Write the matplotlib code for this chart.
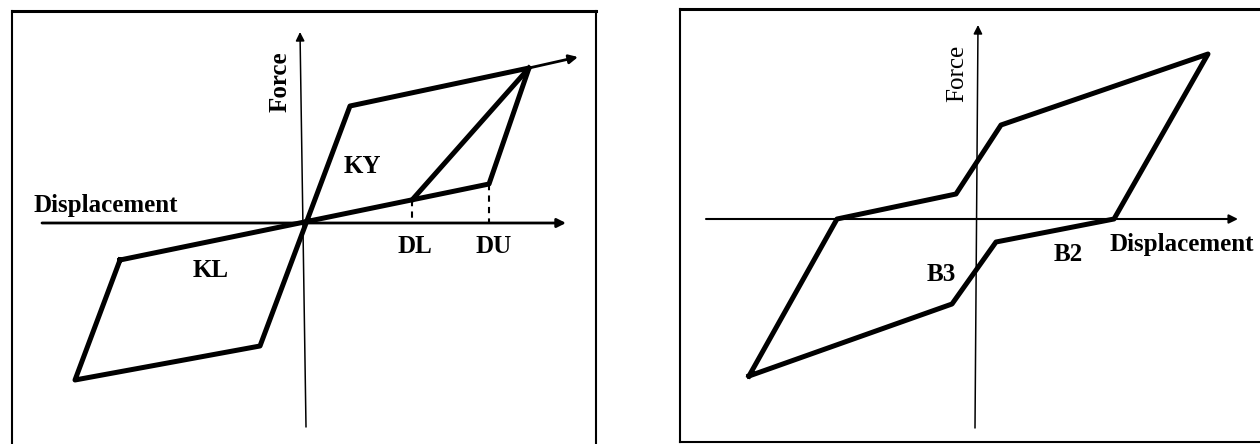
import matplotlib.pyplot as plt

plt.rcParams['font.family'] = ['Liberation Serif', 'DejaVu Serif']

# Left panel: bilinear hysteresis with unloading point DU and reloading from DL
left_loop_x = [-18.5, -23.0, -4.5, 4.5, 22.4, 18.4, -18.5]
left_loop_y = [-3.7, -15.7, -12.3, 11.7, 15.5, 3.9, -3.7]
reload_x = [10.7, 22.4]
reload_y = [2.3, 15.5]
dl_x, dl_y = 10.7, 2.3
du_x, du_y = 18.4, 3.9

# Right panel: flag-shaped loop with B2 / B3 branches
right_loop_x = [-22.8, -14.0, -2.1, 2.4, 23.1, 13.7, 1.9, -2.5, -22.8]
right_loop_y = [-15.7, 0.0, 2.5, 9.4, 16.5, 0.0, -2.3, -8.5, -15.7]

fig = plt.figure(figsize=(12.6, 4.44), dpi=100)
W, H = 1260, 444

ax1 = fig.add_axes([12 / W, 0, 584 / W, 433 / H])
ax1.set_xlim(-29.3, 29.1)
ax1.set_ylim(-22.1, 21.2)

ax2 = fig.add_axes([680 / W, 2 / H, 580 / W, 433 / H])
ax2.set_xlim(-29.7, 28.3)
ax2.set_ylim(-22.3, 21.0)

for ax in (ax1, ax2):
    ax.set_xticks([])
    ax.set_yticks([])
    for s in ax.spines.values():
        s.set_linewidth(1.5)
    ax.spines['top'].set_linewidth(2.2)

ax1.spines['bottom'].set_visible(False)
ax2.spines['right'].set_visible(False)


def arrow(ax, start, tip, lw):
    ax.annotate('', xy=tip, xytext=start,
                arrowprops=dict(arrowstyle='-|>', color='black', lw=lw,
                                mutation_scale=13, shrinkA=0, shrinkB=0))


# left panel
arrow(ax1, (-26.3, 0), (26.1, 0), 2.0)
arrow(ax1, (0.1, -20.4), (-0.5, 19.1), 1.1)
arrow(ax1, (22.4, 15.5), (27.3, 16.6), 2.0)
ax1.plot(left_loop_x, left_loop_y, color='black', lw=3.6)
ax1.plot(reload_x, reload_y, color='black', lw=3.6)
ax1.plot([dl_x, dl_x], [dl_y, 0], color='black', lw=1.5, ls=(0, (3, 2.5)))
ax1.plot([du_x, du_x], [du_y, 0], color='black', lw=1.5, ls=(0, (3, 2.5)))

tk = dict(fontsize=18, fontweight='bold', color='black')
ax1.text(-2.5, 14.1, 'Force', rotation=90, ha='center', va='center', **tk)
ax1.text(-27.2, 1.1, 'Displacement', ha='left', va='baseline', **tk)
ax1.text(5.7, 5.0, 'KY', ha='center', va='baseline', **tk)
ax1.text(-9.4, -5.4, 'KL', ha='center', va='baseline', **tk)
ax1.text(10.95, -3.0, 'DL', ha='center', va='baseline', **tk)
ax1.text(18.85, -3.0, 'DU', ha='center', va='baseline', **tk)

# right panel
arrow(ax2, (-27.1, 0), (26.1, 0), 1.5)
arrow(ax2, (-0.2, -20.9), (0.1, 19.4), 1.1)
ax2.plot(right_loop_x, right_loop_y, color='black', lw=3.6)

ax2.text(-2.0, 14.6, 'Force', rotation=90, ha='center', va='center',
         fontsize=18, color='black')
ax2.text(13.2, -3.2, 'Displacement', ha='left', va='baseline', **tk)
ax2.text(-3.6, -6.2, 'B3', ha='center', va='baseline', **tk)
ax2.text(9.15, -4.2, 'B2', ha='center', va='baseline', **tk)

fig.savefig('out.png', dpi=100)
